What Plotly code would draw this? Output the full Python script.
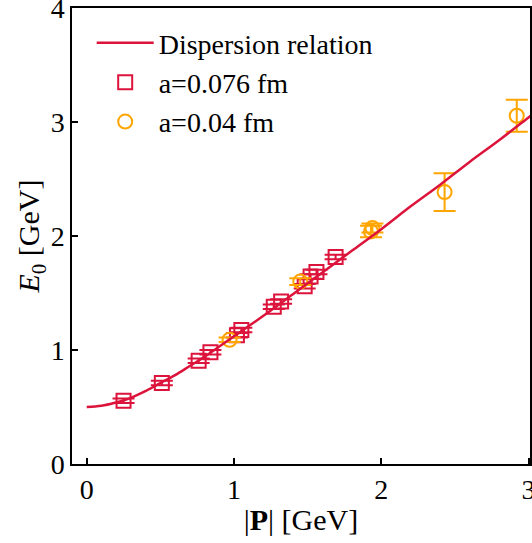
import plotly.graph_objects as go

# Dispersion relation curve
p_curve = [0.0, 0.1, 0.2, 0.3, 0.4, 0.5, 0.6, 0.7, 0.8, 0.9, 1.0, 1.2, 1.4, 1.6, 1.8, 2.0, 2.2, 2.4, 2.6, 2.8, 3.0, 3.05]
e_curve = [0.50, 0.51, 0.54, 0.58, 0.64, 0.71, 0.78, 0.86, 0.94, 1.03, 1.12, 1.30, 1.49, 1.68, 1.87, 2.06, 2.26, 2.45, 2.65, 2.84, 3.04, 3.09]

# a = 0.076 fm
p_076 = [0.25, 0.51, 0.76, 0.84, 1.02, 1.05, 1.27, 1.32, 1.48, 1.52, 1.56, 1.69]
e_076 = [0.555, 0.71, 0.905, 0.98, 1.13, 1.175, 1.38, 1.425, 1.56, 1.645, 1.685, 1.815]
err_076 = [0.02, 0.02, 0.02, 0.02, 0.02, 0.02, 0.02, 0.02, 0.02, 0.02, 0.02, 0.02]

# a = 0.04 fm
p_04 = [0.97, 1.45, 1.93, 1.94, 2.43, 2.92]
e_04 = [1.09, 1.60, 2.04, 2.07, 2.385, 3.055]
err_04 = [0.02, 0.03, 0.05, 0.04, 0.165, 0.14]

x_ticks = [0, 1, 2, 3]
y_ticks = [0, 1, 2, 3, 4]

RED = "#DC143C"
ORANGE = "#FFA500"
FONT = "Liberation Serif"

fig = go.Figure()

fig.add_trace(go.Scatter(
    x=p_076, y=e_076, mode="markers", name="a=0.076 fm", legendrank=2,
    marker=dict(symbol="square-open", size=14, color=RED, line=dict(width=2, color=RED)),
    error_y=dict(type="data", array=err_076, visible=True, color=RED, thickness=2, width=11),
))
fig.add_trace(go.Scatter(
    x=p_04, y=e_04, mode="markers", name="a=0.04 fm", legendrank=3,
    marker=dict(symbol="circle-open", size=14, color=ORANGE, line=dict(width=2, color=ORANGE)),
    error_y=dict(type="data", array=err_04, visible=True, color=ORANGE, thickness=2, width=11),
))
fig.add_trace(go.Scatter(
    x=p_curve, y=e_curve, mode="lines", name="Dispersion relation", legendrank=1,
    line=dict(color=RED, width=2.5, shape="spline"),
))

axis_common = dict(
    showgrid=False, zeroline=False, showline=True, linecolor="black", linewidth=1.5,
    mirror=True, ticks="inside", ticklen=6, tickwidth=1.5, tickcolor="black",
    tickfont=dict(family=FONT, size=28, color="black"), automargin=False,
    ticklabeloverflow="allow",
)

fig.update_layout(
    width=532, height=543,
    margin=dict(l=72, r=2, t=8, b=79, autoexpand=False),
    plot_bgcolor="white", paper_bgcolor="white",
    font=dict(family=FONT, color="black"),
    xaxis=dict(range=[-0.1, 3.01], tickvals=x_ticks,
               title=dict(text="|<b>P</b>| [GeV]", font=dict(family=FONT, size=30), standoff=5),
               **axis_common),
    yaxis=dict(range=[0, 4], tickvals=y_ticks,
               title=dict(text="<i>E</i><sub>0</sub> [GeV]", font=dict(family=FONT, size=30), standoff=0),
               **axis_common),
    legend=dict(x=0.043, y=0.978, xanchor="left", yanchor="top", bgcolor="rgba(0,0,0,0)",
                font=dict(family=FONT, size=28, color="black"), tracegroupgap=0, itemwidth=57),
    showlegend=True,
)

fig.write_html("out.html", config={"displayModeBar": False},
               post_script="document.body.style.margin='0';document.body.style.padding='0';")
